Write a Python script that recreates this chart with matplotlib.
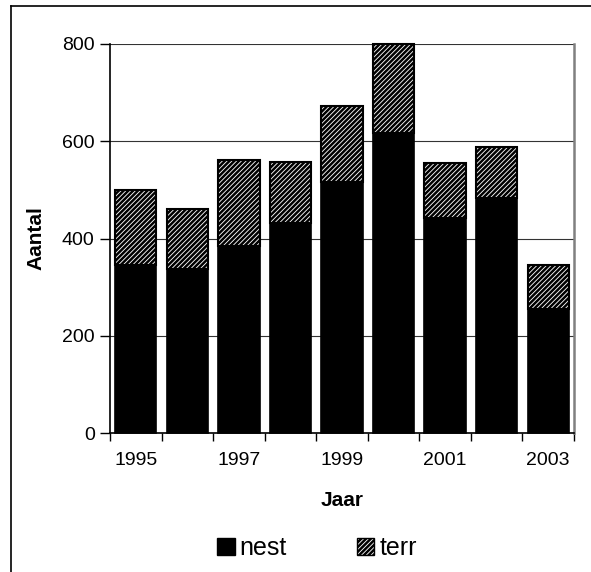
import matplotlib
matplotlib.use("Agg")
import matplotlib.pyplot as plt
from matplotlib.patches import Patch
from matplotlib.lines import Line2D
import numpy as np

years = [1995, 1996, 1997, 1998, 1999, 2000, 2001, 2002, 2003]
nest = [346, 337, 384, 432, 516, 617, 443, 484, 255]
terr = [154, 123, 178, 125, 156, 183, 113, 105, 90]
yticks = [0, 200, 400, 600, 800]

plt.rcParams['font.family'] = ['Liberation Sans', 'DejaVu Sans']
plt.rcParams['hatch.linewidth'] = 1.8

W, H = 591, 572
fig = plt.figure(figsize=(W/100, H/100), dpi=100)
ax = fig.add_axes([110/W, 1-433/H, 464/W, 389/H])

x = np.arange(len(years))
ax.bar(x, nest, width=0.8, color='black', edgecolor='black', linewidth=1.2,
       label='nest', zorder=3, clip_on=False)
ax.bar(x, terr, bottom=nest, width=0.8, color='white', edgecolor='black', hatch='///////',
       linewidth=1.5, label='terr', zorder=3, clip_on=False)

ax.set_xlim(-0.5, len(years) - 0.5)
ax.set_ylim(0, 800)
ax.set_yticks(yticks)
ax.set_yticklabels([str(v) for v in yticks], fontsize=14)
ax.yaxis.grid(True, color='#333333', linewidth=0.8, zorder=0)
ax.set_axisbelow(True)

ax.set_xticks(x[::2])
ax.set_xticklabels([str(years[i]) for i in x[::2]], fontsize=14)
ax.tick_params(axis='x', which='major', length=0, pad=14)
ax.set_xticks(np.arange(-0.5, len(years), 1.0), minor=True)
ax.tick_params(axis='x', which='minor', length=6, width=1, direction='out')
ax.tick_params(axis='y', length=7, width=1, direction='out', pad=4)

ax.spines['top'].set_visible(False)
ax.spines['right'].set_color('#808080')
ax.spines['right'].set_linewidth(1.8)
ax.spines['left'].set_linewidth(1.2)
ax.spines['bottom'].set_linewidth(1.2)

ax.set_ylabel('Aantal', fontsize=15, fontweight='bold', va='center')
ax.yaxis.set_label_coords((36 - 110) / 464, 0.5)
ax.set_xlabel('Jaar', fontsize=15, fontweight='bold', va='center')
ax.xaxis.set_label_coords(0.5, (433 - 501) / 389)

handles = [Patch(facecolor='black', edgecolor='black', label='nest'),
           Patch(facecolor='white', edgecolor='black', hatch='///////', label='terr')]
fig.legend(handles=handles, loc='center', bbox_to_anchor=(317/W, 1-548/H), ncol=2,
           frameon=False, fontsize=18, handlelength=0.7, handleheight=0.7,
           handletextpad=0.2, columnspacing=2.8)

# outer chart frame (left and top edges visible, rest cropped)
fig.add_artist(Line2D([11/W, 11/W], [0, 1-6/H], transform=fig.transFigure,
                      color='black', linewidth=1.2))
fig.add_artist(Line2D([11/W, 1], [1-6/H, 1-6/H], transform=fig.transFigure,
                      color='black', linewidth=1.2))

fig.savefig('out.png', dpi=100)
